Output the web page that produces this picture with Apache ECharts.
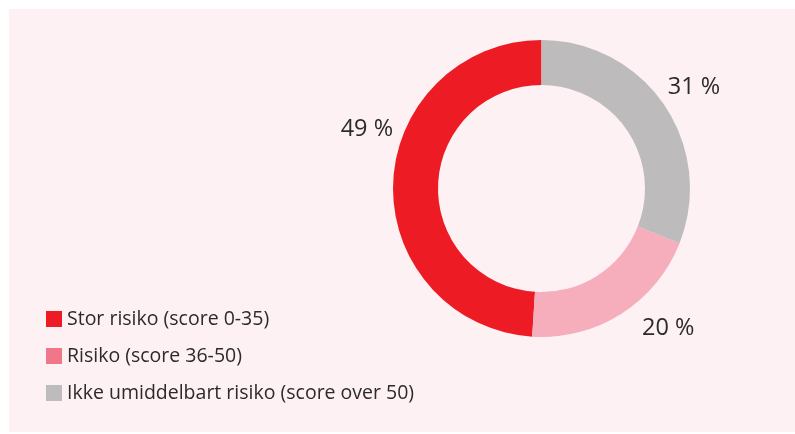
<!DOCTYPE html>
<html>
<head>
<meta charset="utf-8">
<script src="https://cdn.jsdelivr.net/npm/echarts@6/dist/echarts.min.js"></script>
<style>
  html, body { margin: 0; padding: 0; background: #ffffff; }
  #chart { width: 795px; height: 434px; }
</style>
</head>
<body>
<div id="chart"></div>
<script>
const categories = ['Stor risiko (score 0-35)', 'Risiko (score 36-50)', 'Ikke umiddelbart risiko (score over 50)']
const shares = [49, 20, 31]
const sliceColors = ['#ed1c24', '#f6aebd', '#bdbbbc']
const legendColors = ['#ed1c24', '#f07688', '#bdbbbc']

// small nudges so the % labels sit where the original put them
const labelNudge = [[20, -54], [8, 2], [-14, -9]]

const chart = echarts.init(document.getElementById('chart'))

const options = {
  backgroundColor: '#ffffff',
  graphic: [{
    type: 'rect',
    silent: true,
    z: -10,
    shape: { x: 9, y: 9, width: 786, height: 423 },
    style: { fill: '#fdf1f3' }
  }],
  legend: {
    orient: 'vertical',
    left: 41,
    top: 304,
    itemWidth: 16,
    itemHeight: 16,
    itemGap: 17,
    icon: 'rect',
    data: categories.map((name, i) => ({ name, itemStyle: { color: legendColors[i] } })),
    textStyle: {
      fontFamily: 'Open Sans',
      fontSize: 19.5,
      lineHeight: 16,
      color: '#2b2b2b'
    }
  },
  series: [{
    type: 'pie',
    center: [541.5, 188.5],
    radius: [103.5, 148.5],
    startAngle: 90,
    clockwise: false,
    avoidLabelOverlap: false,
    silent: true,
    label: {
      show: true,
      position: 'outside',
      formatter: p => p.value + ' %',
      fontFamily: 'Open Sans',
      fontSize: 23.5,
      color: '#2b2b2b'
    },
    labelLine: { show: false, length: 15, length2: 0 },
    labelLayout: p => ({ dx: labelNudge[p.dataIndex][0], dy: labelNudge[p.dataIndex][1] }),
    itemStyle: { borderWidth: 0 },
    data: categories.map((name, i) => ({
      name,
      value: shares[i],
      itemStyle: { color: sliceColors[i] }
    }))
  }]
}
chart.setOption(options)
</script>
</body>
</html>
